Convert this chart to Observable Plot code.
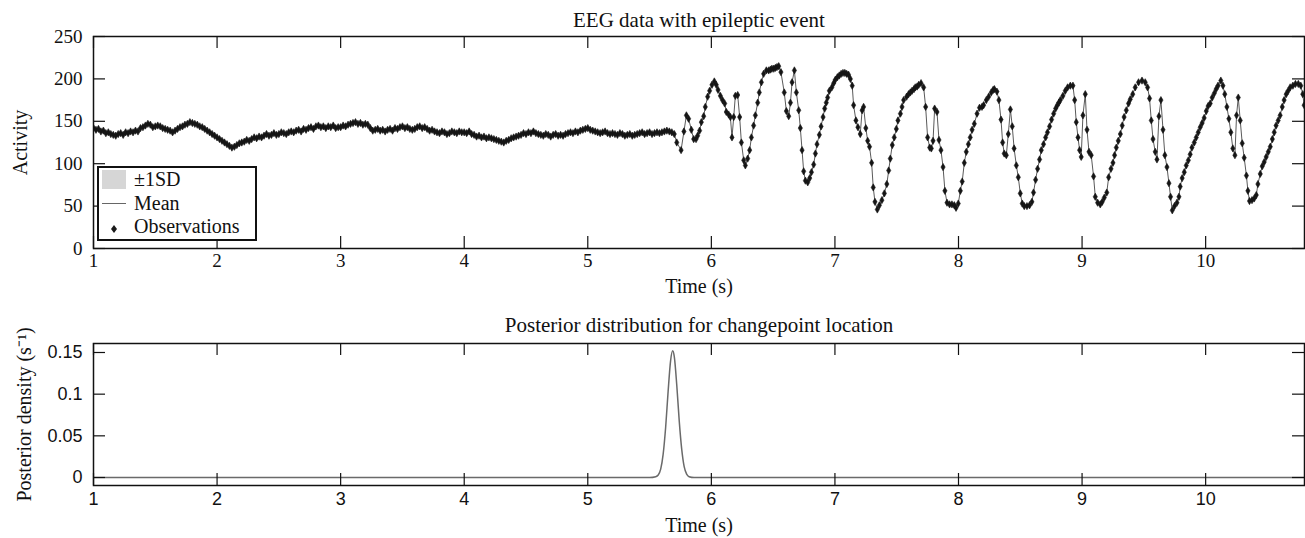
<!DOCTYPE html>
<html>
<head>
<meta charset="utf-8">
<script src="https://cdn.jsdelivr.net/npm/d3@7"></script>
<script src="https://cdn.jsdelivr.net/npm/@observablehq/plot@0.6"></script>
<style>
  html, body { margin: 0; padding: 0; background: #fff; }
  body { width: 1305px; height: 538px; position: relative; overflow: hidden; }
  #topChart, #bottomChart { position: absolute; left: 0; }
  #topChart { top: 0; }
  #bottomChart { top: 300px; }
  svg { display: block; }
  .legend { position: absolute; left: 97px; top: 166px; width: 156px; height: 71px;
            border: 2px solid #111; background: #fff;
            font-family: "Liberation Serif", "Times New Roman", serif; font-size: 20px; color: #111; }
  .legend .txt { position: absolute; left: 35px; line-height: 20px; white-space: nowrap; }
  .legend .sw { position: absolute; left: 3px; top: 2px; width: 24px; height: 19px; background: #d6d6d6; }
  .legend .ln { position: absolute; left: 3px; top: 35px; width: 24px; height: 1.3px; background: #666; }
  .legend svg { position: absolute; left: 12px; top: 57px; }
</style>
</head>
<body>
<div id="topChart"></div>
<div id="bottomChart"></div>
<div class="legend">
  <div class="sw"></div><div class="txt" style="top:1px">±1SD</div>
  <div class="ln"></div><div class="txt" style="top:25px">Mean</div>
  <svg width="6" height="8"><polygon points="3,0 6,4 3,8 0,4" fill="#1a1a1a"/></svg>
  <div class="txt" style="top:48px">Observations</div>
</div>
<script>
// ---------- data ----------
const titleTop = "EEG data with epileptic event";
const titleBottom = "Posterior distribution for changepoint location";
const xLabel = "Time (s)";
const yLabelTop = "Activity";
const yLabelBottom = "Posterior density (s⁻¹)";

const xTicks = [1, 2, 3, 4, 5, 6, 7, 8, 9, 10];
const yTicksTop = [0, 50, 100, 150, 200, 250];
const yTicksBottom = [0, 0.05, 0.1, 0.15];

// calm segment: sampled every 0.02 s from t = 1.00 s
const calmStart = 1.0;
const calmStep = 0.02;
const calmActivity = [
  142,140,141,138,139,136,137,135,134,133,
  135,136,134,137,136,138,137,139,138,142,
  143,145,147,146,143,144,145,144,142,141,
  140,139,137,139,141,143,144,146,147,149,
  148,147,146,144,143,141,139,137,135,133,
  131,129,127,125,123,121,119,120,122,124,
  125,126,128,127,129,131,130,132,131,133,
  135,133,134,136,134,135,137,136,135,137,
  138,137,139,140,138,141,140,142,143,141,
  144,145,143,144,142,144,143,145,142,143,
  143,145,144,146,147,148,149,147,148,146,
  147,146,142,139,140,141,139,140,138,140,
  141,139,142,141,143,144,142,143,141,140,
  141,143,144,142,143,141,139,140,138,137,
  136,138,137,135,136,138,137,136,138,137,
  137,136,138,135,134,132,133,131,132,130,
  131,130,129,128,127,126,125,127,128,130,
  131,132,133,134,136,135,137,136,138,136,
  135,134,133,135,134,132,134,135,133,134,
  133,135,136,137,136,138,137,139,140,141,
  142,140,139,138,137,136,137,138,136,135,
  136,135,134,136,135,133,134,135,133,134,
  135,136,137,135,136,137,135,136,137,136,
  137,138,139,138,137,135
];

const seizureTime = [
  5.720,5.755,5.778,5.798,5.816,5.838,5.857,5.876,5.889,5.905,5.919,5.938,5.951,5.970,5.986,
  6.005,6.024,6.040,6.054,6.073,6.090,6.108,6.121,6.140,6.154,6.167,6.181,6.194,6.213,6.229,
  6.243,6.262,6.275,6.294,6.310,6.324,6.342,6.356,6.375,6.388,6.405,6.423,6.445,6.464,6.478,
  6.490,6.505,6.518,6.531,6.545,6.563,6.590,6.607,6.626,6.640,6.653,6.672,6.688,6.707,6.720,
  6.734,6.747,6.761,6.780,6.796,6.810,6.828,6.842,6.855,6.874,6.888,6.904,6.917,6.930,6.941,
  6.955,6.975,6.990,7.003,7.020,7.035,7.050,7.065,7.080,7.095,7.110,7.125,7.140,7.151,7.170,
  7.186,7.205,7.220,7.232,7.250,7.265,7.280,7.297,7.310,7.324,7.343,7.360,7.380,7.400,7.420,
  7.435,7.448,7.464,7.480,7.497,7.510,7.530,7.543,7.556,7.580,7.596,7.610,7.624,7.640,7.650,
  7.665,7.678,7.697,7.718,7.734,7.750,7.767,7.780,7.794,7.807,7.826,7.842,7.858,7.875,7.890,
  7.907,7.928,7.947,7.966,7.980,7.998,8.015,8.030,8.047,8.063,8.080,8.095,8.110,8.128,8.150,
  8.170,8.190,8.203,8.225,8.244,8.265,8.280,8.290,8.311,8.327,8.344,8.357,8.370,8.387,8.403,
  8.420,8.435,8.450,8.468,8.484,8.500,8.516,8.532,8.554,8.575,8.594,8.607,8.624,8.640,8.656,
  8.670,8.688,8.705,8.720,8.737,8.753,8.770,8.786,8.800,8.812,8.824,8.845,8.864,8.883,8.905,
  8.926,8.940,8.953,8.967,8.980,8.993,9.007,9.026,9.040,9.056,9.074,9.093,9.107,9.126,9.147,
  9.163,9.180,9.200,9.215,9.234,9.250,9.263,9.277,9.293,9.310,9.325,9.340,9.358,9.376,9.390,
  9.410,9.430,9.457,9.485,9.511,9.530,9.546,9.560,9.574,9.592,9.606,9.622,9.638,9.655,9.670,
  9.687,9.703,9.716,9.730,9.748,9.768,9.784,9.794,9.810,9.827,9.843,9.860,9.875,9.889,9.908,
  9.924,9.940,9.956,9.972,9.988,10.005,10.020,10.037,10.053,10.070,10.085,10.100,10.123,10.140,10.155,
  10.172,10.188,10.204,10.220,10.237,10.250,10.264,10.280,10.296,10.312,10.330,10.342,10.355,10.375,10.393,
  10.410,10.423,10.442,10.458,10.474,10.490,10.507,10.523,10.540,10.555,10.570,10.587,10.603,10.620,10.635,
  10.652,10.668,10.684,10.706,10.727,10.750,10.770,10.786,10.797
];
const seizureActivity = [
  125,116,138,157,153,140,129,129,133,139,149,156,167,179,186,
  193,197,193,187,180,175,171,161,158,155,131,155,180,181,155,
  125,104,98,106,116,131,145,157,172,184,196,206,210,210,211,
  212,212,213,214,215,208,184,162,156,172,196,210,184,163,142,
  116,91,80,78,83,90,99,112,123,134,144,155,165,172,178,
  186,190,195,199,202,204,206,207,207,206,205,200,192,169,151,
  143,135,163,167,142,127,120,101,72,55,46,51,57,65,76,
  92,106,122,131,141,151,159,167,175,179,182,184,186,188,190,
  191,193,195,190,167,131,119,118,127,165,161,128,116,96,68,
  54,52,52,51,48,53,68,79,101,114,123,131,140,147,159,
  166,167,169,175,179,184,187,188,185,175,152,125,112,110,135,
  164,144,118,98,84,65,53,50,50,51,55,66,81,94,105,
  116,123,131,137,144,152,159,165,169,172,175,180,186,190,192,
  192,175,149,131,116,108,157,182,140,114,110,85,61,54,52,
  55,60,66,84,94,101,110,119,127,135,145,155,163,171,176,
  182,190,196,198,196,190,177,151,129,114,105,156,175,140,110,
  96,77,61,45,50,54,61,73,83,90,98,104,111,119,125,
  131,137,143,148,154,162,168,171,178,183,188,192,198,192,182,
  167,153,137,118,110,157,178,151,124,107,86,68,56,57,59,
  63,76,88,97,102,108,114,120,129,137,145,151,157,167,175,
  182,186,190,192,194,194,192,182,169
];

// posterior density of changepoint location
const postTime =    [1, 5.50, 5.55, 5.57, 5.59, 5.61, 5.63, 5.65, 5.67, 5.687, 5.70, 5.72, 5.74, 5.76, 5.78, 5.80, 5.82, 5.86, 10.8];
const postDensity = [0, 0, 0.001, 0.003, 0.010, 0.028, 0.060, 0.103, 0.140, 0.152, 0.145, 0.111, 0.068, 0.034, 0.013, 0.004, 0.001, 0, 0];

// ---------- tables ----------
const obs = calmActivity.map((v, i) => ({t: calmStart + i * calmStep, v}))
  .concat(seizureTime.map((t, i) => ({t, v: seizureActivity[i]})));
const post = postTime.map((t, i) => ({t, d: postDensity[i]}));

const W = 1305, ML = 93, MR = 1;
const PW = W - ML - MR;
const serif = '"Liberation Serif", "Times New Roman", serif';
const sans = '"Liberation Sans", Arial, sans-serif';
const TK = 12;

// ---------- top chart ----------
const topH = 300, topMT = 36, topMB = 52;
const topPH = topH - topMT - topMB;
const topChart = Plot.plot({
  width: W, height: topH,
  marginLeft: ML, marginRight: MR, marginTop: topMT, marginBottom: topMB,
  x: {domain: [1, 10.8]},
  y: {domain: [0, 250]},
  style: {fontFamily: serif, fontSize: "19px", color: "#111", background: "#fff", overflow: "visible"},
  marks: [
    Plot.line(obs, {x: "t", y: "v", stroke: "#5a5a5a", strokeWidth: 1, clip: true}),
    Plot.dot(obs, {x: "t", y: "v", symbol: "diamond", r: 2.2, fill: "#151515", stroke: "#151515", strokeWidth: 0.6, clip: true}),
    Plot.tickX(xTicks, {x: d => d, insetTop: topPH - TK, stroke: "#111", strokeWidth: 1.2}),
    Plot.tickX(xTicks, {x: d => d, insetBottom: topPH - TK, stroke: "#111", strokeWidth: 1.2}),
    Plot.tickY(yTicksTop, {y: d => d, insetRight: PW - TK, stroke: "#111", strokeWidth: 1.2}),
    Plot.tickY(yTicksTop, {y: d => d, insetLeft: PW - TK, stroke: "#111", strokeWidth: 1.2}),
    Plot.frame({stroke: "#111", strokeWidth: 1.5}),
    Plot.axisX(xTicks, {tickSize: 0, tickPadding: 5, label: null, tickFormat: d => String(d), fontSize: 19}),
    Plot.axisY(yTicksTop, {tickSize: 0, tickPadding: 11, label: null, tickFormat: d => String(d), fontSize: 19}),
    Plot.text([titleTop], {text: d => d, frameAnchor: "top", lineAnchor: "middle", dy: -16, fontSize: 21, fill: "#111"}),
    Plot.text([xLabel], {text: d => d, frameAnchor: "bottom", lineAnchor: "middle", dy: 38, fontSize: 20, fill: "#111"}),
    Plot.text([yLabelTop], {text: d => d, frameAnchor: "left", textAnchor: "middle", lineAnchor: "middle", dx: -73, rotate: -90, fontSize: 20, fill: "#111"})
  ]
});
document.getElementById("topChart").appendChild(topChart);

// ---------- bottom chart ----------
const botH = 238, botMT = 43, botMB = 53;
const botPH = botH - botMT - botMB;
const bottomChart = Plot.plot({
  width: W, height: botH,
  marginLeft: ML, marginRight: MR, marginTop: botMT, marginBottom: botMB,
  x: {domain: [1, 10.8]},
  y: {domain: [-0.0096, 0.1608]},
  style: {fontFamily: sans, fontSize: "18px", color: "#111", background: "#fff", overflow: "visible"},
  marks: [
    Plot.line(post, {x: "t", y: "d", stroke: "#6a6a6a", strokeWidth: 1.5, curve: "monotone-x", clip: true}),
    Plot.tickX(xTicks, {x: d => d, insetTop: botPH - TK, stroke: "#111", strokeWidth: 1.2}),
    Plot.tickX(xTicks, {x: d => d, insetBottom: botPH - TK, stroke: "#111", strokeWidth: 1.2}),
    Plot.tickY(yTicksBottom, {y: d => d, insetRight: PW - TK, stroke: "#111", strokeWidth: 1.2}),
    Plot.tickY(yTicksBottom, {y: d => d, insetLeft: PW - TK, stroke: "#111", strokeWidth: 1.2}),
    Plot.frame({stroke: "#111", strokeWidth: 1.5}),
    Plot.axisX(xTicks, {tickSize: 0, tickPadding: 7, label: null, tickFormat: d => String(d), fontSize: 18}),
    Plot.axisY(yTicksBottom, {tickSize: 0, tickPadding: 11, label: null, tickFormat: d => String(d), fontSize: 18}),
    Plot.text([titleBottom], {text: d => d, frameAnchor: "top", lineAnchor: "middle", dy: -18, fontSize: 21, fontFamily: serif, fill: "#111"}),
    Plot.text([xLabel], {text: d => d, frameAnchor: "bottom", lineAnchor: "middle", dy: 40, fontSize: 20, fontFamily: serif, fill: "#111"}),
    Plot.text([yLabelBottom], {text: d => d, frameAnchor: "left", textAnchor: "middle", lineAnchor: "middle", dx: -69, rotate: -90, fontSize: 20, fontFamily: serif, fill: "#111"})
  ]
});
document.getElementById("bottomChart").appendChild(bottomChart);
</script>
</body>
</html>
